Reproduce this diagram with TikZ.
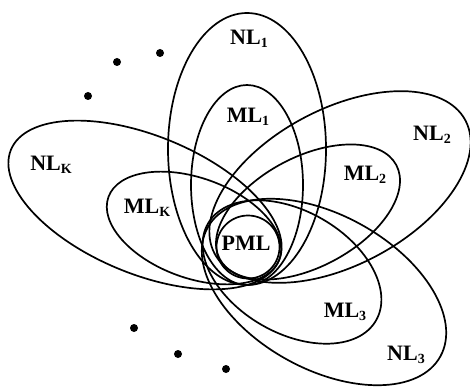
\documentclass[tikz,border=0pt]{standalone}
\usepackage{fontspec}
\setmainfont{Liberation Serif}
\newcommand\lab[2]{\textbf{#1\raisebox{-0.12em}{\fontsize{14}{14}\selectfont #2}}}
\begin{document}
\begin{tikzpicture}[x=1pt,y=-1pt,
  loopline/.style={line width=1.7pt},
  lbl/.style={font=\fontsize{22}{26}\selectfont, inner sep=0pt},
  dotmark/.style={fill=black}]
\useasboundingbox (0,0) rectangle (470,387);
% vertical pair
\draw[loopline] (247,149) ellipse [x radius=79pt, y radius=136pt];
\draw[loopline] (247,185) ellipse [x radius=56pt, y radius=100pt];
% upper right pair
\draw[loopline, rotate around={28:(340,187)}] (340,187) ellipse [x radius=142pt, y radius=78pt];
\draw[loopline, rotate around={28:(308,212)}] (308,212) ellipse [x radius=100pt, y radius=55pt];
% left pair
\draw[loopline, rotate around={-22.4:(145,205)}] (145,205) ellipse [x radius=145pt, y radius=69pt];
\draw[loopline, rotate around={-20:(194,228)}] (194,228) ellipse [x radius=91pt, y radius=50pt];
% lower right pair
\draw[loopline, rotate around={-29:(324,292)}] (324,292) ellipse [x radius=133pt, y radius=77pt];
\draw[loopline, rotate around={-30:(292,272)}] (292,272) ellipse [x radius=97pt, y radius=61pt];
% PML
\draw[loopline] (248,247) circle [radius=31.5pt];
% labels
\node[lbl] (nl1) at (249,39) {\lab{NL}{1}};
\node[lbl] (ml1) at (248,117) {\lab{ML}{1}};
\node[lbl] (nl2) at (432,135) {\lab{NL}{2}};
\node[lbl] (ml2) at (365,175) {\lab{ML}{2}};
\node[lbl] (nlk) at (51,165) {\lab{NL}{K}};
\node[lbl] (mlk) at (147,208) {\lab{ML}{K}};
\node[lbl] (pml) at (246,243) {\textbf{PML}};
\node[lbl] (ml3) at (345,312) {\lab{ML}{3}};
\node[lbl] (nl3) at (406,355) {\lab{NL}{3}};
% dots
\fill[dotmark] (160,53) circle [radius=4pt];
\fill[dotmark] (117,62) circle [radius=4pt];
\fill[dotmark] (88,96) circle [radius=4pt];
\fill[dotmark] (134,328) circle [radius=4pt];
\fill[dotmark] (178,354) circle [radius=4pt];
\fill[dotmark] (226,369) circle [radius=4pt];
\end{tikzpicture}
\end{document}
